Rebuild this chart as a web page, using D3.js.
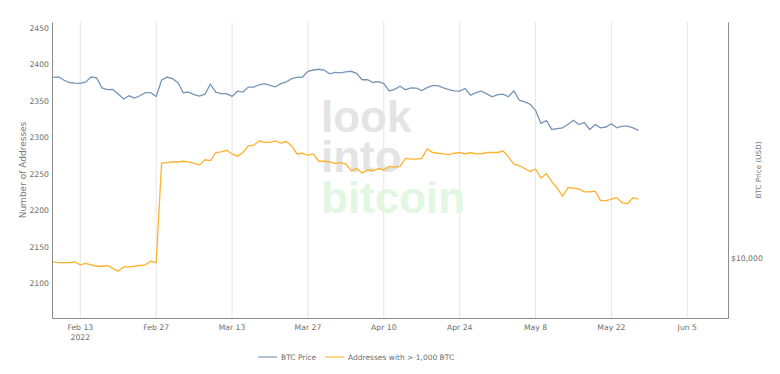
<!DOCTYPE html>
<html>
<head>
<meta charset="utf-8">
<script src="https://cdn.jsdelivr.net/npm/d3@7"></script>
<style>
  body { margin: 0; background: #fff; }
  svg { display: block; font-family: "DejaVu Sans", Verdana, sans-serif; }
</style>
</head>
<body>
<div id="chart"></div>
<script>
// daily values, first day Feb 8 2022
const firstDay = new Date(2022, 1, 8);

const btcPrice = [
  44900, 45000, 43800, 43000, 42800, 42700, 43200, 45000, 44700, 41100,
  40500, 40600, 39100, 37500, 38500, 37800, 38500, 39500, 39500, 38300,
  43800, 45000, 44400, 43000, 39500, 39700, 38900, 38400, 39000, 42400,
  39700, 39200, 39200, 38300, 40000, 39700, 41400, 41400, 42200, 42600,
  42000, 41500, 42600, 43200, 44400, 44900, 45000, 47200, 47700, 48000,
  47700, 46200, 46800, 46600, 47000, 47200, 46300, 44000, 44000, 43000,
  43300, 42600, 40100, 40600, 41700, 40500, 41100, 41000, 40200, 41200,
  41900, 41900, 41100, 40500, 40100, 40000, 40900, 38700, 39500, 40000,
  39100, 38200, 38900, 39000, 38200, 40100, 37100, 36600, 35900, 34100,
  30600, 31300, 29100, 29300, 29500, 30400, 31400, 30300, 30800, 29100,
  30300, 29500, 29700, 30500, 29500, 29900, 29900, 29500, 28900
];

const bigAddresses = [
  2129, 2128, 2128, 2128, 2129, 2125, 2127, 2125, 2123, 2123,
  2124, 2120, 2116, 2122, 2122, 2123, 2124, 2125, 2130, 2128,
  2264, 2265, 2266, 2266, 2267, 2266, 2264, 2262, 2269, 2268,
  2279, 2280, 2282, 2277, 2274, 2279, 2288, 2289, 2295, 2293,
  2293, 2295, 2292, 2294, 2288, 2277, 2278, 2275, 2277, 2267,
  2267, 2266, 2264, 2265, 2263, 2254, 2257, 2251, 2255, 2254,
  2257, 2255, 2260, 2259, 2260, 2271, 2270, 2270, 2271, 2284,
  2279, 2278, 2277, 2276, 2278, 2279, 2277, 2279, 2277, 2277,
  2279, 2279, 2279, 2281, 2273, 2263, 2261, 2257, 2253, 2256,
  2244, 2250, 2239, 2230, 2219, 2231, 2230, 2229, 2225, 2225,
  2226, 2213, 2213, 2215, 2217, 2210, 2209, 2217, 2215
];

const xTickDates = ["2022-02-13", "2022-02-27", "2022-03-13", "2022-03-27", "2022-04-10",
                    "2022-04-24", "2022-05-08", "2022-05-22", "2022-06-05"];
const xTickLabels = [["Feb 13", "2022"], ["Feb 27"], ["Mar 13"], ["Mar 27"], ["Apr 10"],
                     ["Apr 24"], ["May 8"], ["May 22"], ["Jun 5"]];
const leftTicks = [2100, 2150, 2200, 2250, 2300, 2350, 2400, 2450];
const rightTicks = [10000];
const seriesNames = ["BTC Price", "Addresses with > 1,000 BTC"];
const seriesColors = ["#7895b8", "#ffb22e"];

const W = 780, H = 374;
const m = { left: 52, right: 52, top: 22, bottom: 56 };

const svg = d3.select("#chart").append("svg")
  .attr("width", W)
  .attr("height", H);

const parse = d3.timeParse("%Y-%m-%d");
const days = bigAddresses.map((v, i) => d3.timeDay.offset(firstDay, i));

const x = d3.scaleTime()
  .domain([new Date(2022, 1, 7, 18, 40), new Date(2022, 5, 12, 12, 15)])
  .range([m.left, W - m.right]);

const yLeft = d3.scaleLinear()
  .domain([2052, 2458])
  .range([H - m.bottom, m.top]);

const yRight = d3.scaleLog()
  .domain([6070, 71100])
  .range([H - m.bottom, m.top]);

// grid
svg.append("g")
  .selectAll("line")
  .data(xTickDates)
  .enter()
  .append("line")
  .attr("x1", d => x(parse(d)))
  .attr("x2", d => x(parse(d)))
  .attr("y1", m.top)
  .attr("y2", H - m.bottom)
  .style("stroke", "#e6e6e6")
  .style("stroke-width", 1);

// watermark
const wm = svg.append("g")
  .style("font-family", "'Liberation Sans', Arial, sans-serif")
  .style("font-weight", "bold")
  .style("font-size", "44px");
wm.append("text").attr("x", 321).attr("y", 132).style("fill", "#e4e4e4").text("look");
wm.append("text").attr("x", 321).attr("y", 172).style("fill", "#e4e4e4").text("into");
wm.append("text").attr("x", 321).attr("y", 213).style("fill", "#e2f7e2").text("bitcoin");

// axes
const xAxis = svg.append("g")
  .attr("transform", `translate(0,${H - m.bottom})`)
  .call(d3.axisBottom(x).tickValues(xTickDates.map(parse)).tickSize(0).tickFormat(""));
xAxis.select(".domain").style("stroke", "#8c8c8c");

const xLabels = svg.append("g")
  .style("font-size", "7.7px")
  .style("fill", "#6e6e6e")
  .attr("text-anchor", "middle");
xTickDates.forEach((d, i) => {
  xLabels.append("text")
    .attr("x", x(parse(d)))
    .attr("y", H - m.bottom + 12)
    .selectAll("tspan")
    .data(xTickLabels[i])
    .enter()
    .append("tspan")
    .attr("x", x(parse(d)))
    .attr("dy", (t, j) => j === 0 ? 0 : 10)
    .text(t => t);
});

const leftAxis = svg.append("g")
  .attr("transform", `translate(${m.left},0)`)
  .call(d3.axisLeft(yLeft).tickValues(leftTicks).tickSize(0).tickPadding(3).tickFormat(d3.format("d")));
leftAxis.select(".domain").style("stroke", "#8c8c8c");
leftAxis.selectAll("text")
  .style("font-family", "'DejaVu Sans', Verdana, sans-serif")
  .style("font-size", "7.7px")
  .style("fill", "#6e6e6e");

const rightAxis = svg.append("g")
  .attr("transform", `translate(${W - m.right},0)`)
  .call(d3.axisRight(yRight).tickValues(rightTicks).tickSize(0).tickPadding(3)
    .tickFormat(d => "$" + d3.format(",")(d)));
rightAxis.select(".domain").style("stroke", "#8c8c8c");
rightAxis.selectAll("text")
  .style("font-family", "'DejaVu Sans', Verdana, sans-serif")
  .style("font-size", "7.7px")
  .style("fill", "#6e6e6e");

// axis titles
svg.append("text")
  .attr("transform", `translate(26,${(m.top + H - m.bottom) / 2}) rotate(-90)`)
  .attr("text-anchor", "middle")
  .style("font-size", "9px")
  .style("fill", "#777")
  .text("Number of Addresses");

svg.append("text")
  .attr("transform", `translate(761,${(m.top + H - m.bottom) / 2}) rotate(-90)`)
  .attr("text-anchor", "middle")
  .style("font-size", "7.2px")
  .style("fill", "#777")
  .text("BTC Price (USD)");

// lines
svg.append("clipPath").attr("id", "plot")
  .append("rect")
  .attr("x", m.left).attr("y", m.top)
  .attr("width", W - m.left - m.right)
  .attr("height", H - m.top - m.bottom);

const priceLine = d3.line()
  .x((d, i) => x(days[i]))
  .y(d => yRight(d));

const addrLine = d3.line()
  .x((d, i) => x(days[i]))
  .y(d => yLeft(d));

svg.append("path")
  .attr("clip-path", "url(#plot)")
  .attr("d", priceLine(btcPrice))
  .style("fill", "none")
  .style("stroke", seriesColors[0])
  .style("stroke-width", 1.3);

svg.append("path")
  .attr("clip-path", "url(#plot)")
  .attr("d", addrLine(bigAddresses))
  .style("fill", "none")
  .style("stroke", seriesColors[1])
  .style("stroke-width", 1.3);

// legend
const legendX = [258, 325];
const legend = svg.append("g")
  .selectAll("g")
  .data(seriesNames)
  .enter()
  .append("g")
  .attr("transform", (d, i) => `translate(${legendX[i]},357)`);

legend.append("line")
  .attr("x1", 0).attr("x2", 19)
  .style("stroke", (d, i) => seriesColors[i])
  .style("stroke-width", 1.5)
  .style("opacity", 0.75);

legend.append("text")
  .attr("x", 23)
  .attr("dy", "0.35em")
  .style("font-size", "7.5px")
  .style("fill", "#6e6e6e")
  .text(d => d);
</script>
</body>
</html>
